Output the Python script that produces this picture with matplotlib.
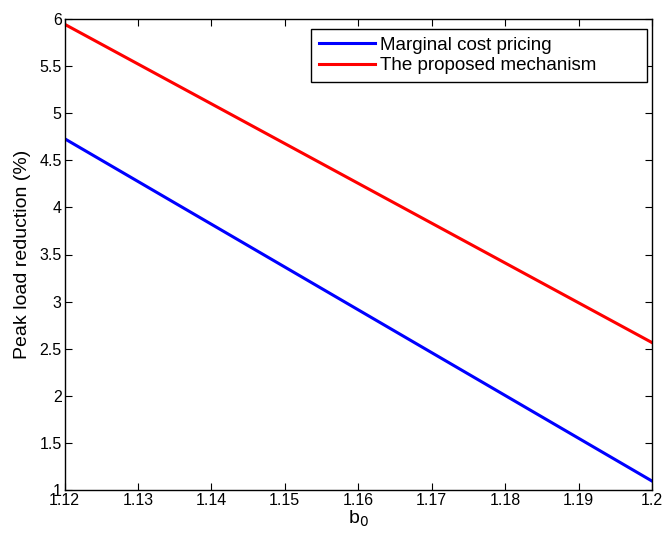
import numpy as np
import matplotlib.pyplot as plt

plt.rcParams['font.family'] = ['Liberation Sans', 'DejaVu Sans']

b0 = [1.12, 1.20]
marginal = [4.73, 1.095]
proposed = [5.945, 2.565]

fig = plt.figure(figsize=(6.62, 5.39), dpi=100)
ax = fig.add_axes([64.5 / 662, 1 - 490 / 539, (652 - 64.5) / 662, (490 - 19) / 539])

ax.plot(b0, marginal, color='#0000ff', lw=2.2, label='Marginal cost pricing')
ax.plot(b0, proposed, color='#ff0000', lw=2.2, label='The proposed mechanism')

ax.set_xlim(1.12, 1.2)
ax.set_ylim(1, 6)
ax.set_xticks(np.arange(1.12, 1.2001, 0.01))
ax.set_xticklabels(['1.12', '1.13', '1.14', '1.15', '1.16', '1.17', '1.18', '1.19', '1.2'])
ax.set_yticks(np.arange(1, 6.01, 0.5))
ax.set_yticklabels(['1', '1.5', '2', '2.5', '3', '3.5', '4', '4.5', '5', '5.5', '6'])
ax.tick_params(direction='in', top=True, right=True, labelsize=11.5, length=5, pad=2)
for s in ax.spines.values():
    s.set_linewidth(1)

ax.set_xlabel('b$_0$', fontsize=14, labelpad=1)
ax.set_ylabel('Peak load reduction (%)', fontsize=14, labelpad=6)

leg = ax.legend(loc='upper left', mode='expand', fontsize=13.5, fancybox=False,
                edgecolor='black', framealpha=1, handlelength=3.0, handletextpad=0.3,
                bbox_to_anchor=(311 / 662, 0, (647 - 311) / 662, 1 - 29.3 / 539),
                bbox_transform=fig.transFigure,
                borderaxespad=0, borderpad=0.4, labelspacing=0.18)
leg.get_frame().set_linewidth(1)

fig.savefig('out.png', dpi=100)
